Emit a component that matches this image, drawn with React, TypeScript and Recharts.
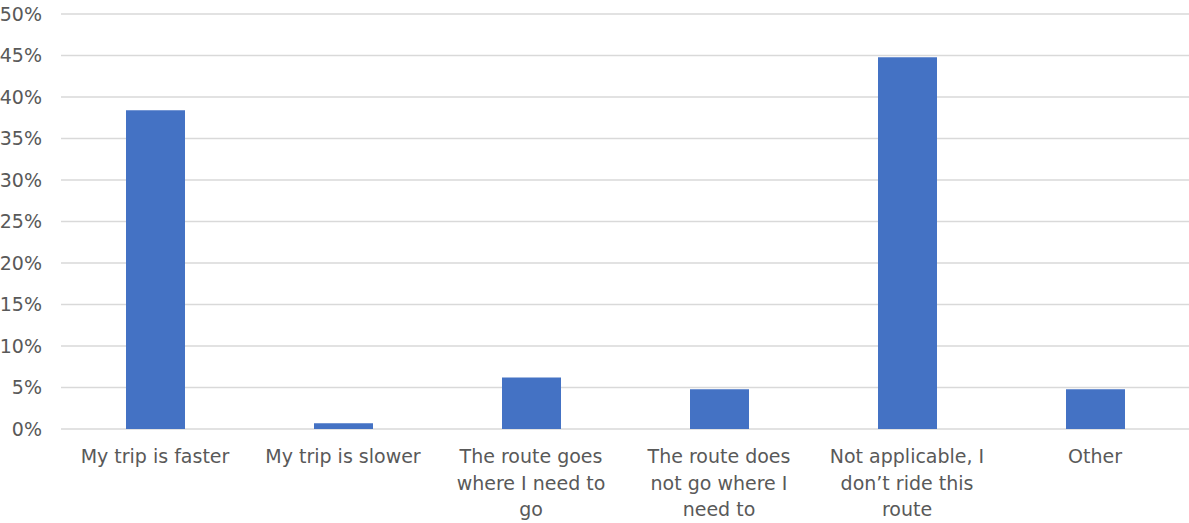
import { BarChart, Bar, XAxis, YAxis, CartesianGrid } from "recharts";

const categories = [
  "My trip is faster",
  "My trip is slower",
  "The route goes where I need to go",
  "The route does not go where I need to",
  "Not applicable, I don’t ride this route",
  "Other",
];

// wrapped lines for the category labels
const categoryLines = [
  ["My trip is faster"],
  ["My trip is slower"],
  ["The route goes", "where I need to", "go"],
  ["The route does", "not go where I", "need to"],
  ["Not applicable, I", "don’t ride this", "route"],
  ["Other"],
];

const shares = [0.384, 0.007, 0.062, 0.048, 0.448, 0.048];

const yTicks = [0, 0.05, 0.1, 0.15, 0.2, 0.25, 0.3, 0.35, 0.4, 0.45, 0.5];

const data = categories.map((name, i) => ({ name, share: shares[i] }));

const FONT = "'DejaVu Sans', sans-serif";
const TEXT = "#595959";

function CategoryTick({ x, y, payload }: any) {
  const idx = categories.indexOf(payload.value);
  const lines = categoryLines[idx] ?? [payload.value];
  return (
    <text x={x} y={y} textAnchor="middle" fill={TEXT} fontSize={19} fontFamily={FONT}>
      {lines.map((line, i) => (
        <tspan key={i} x={x} dy={i === 0 ? 34 : 26.5}>
          {line}
        </tspan>
      ))}
    </text>
  );
}

export default function App() {
  return (
    <div style={{ position: "absolute", left: 0, top: 0, background: "#fff" }}>
      <BarChart
        width={1189}
        height={523}
        data={data}
        margin={{ top: 14, right: 0, left: 0, bottom: 0 }}
      >
        <CartesianGrid vertical={false} stroke="#d9d9d9" strokeWidth={1.5} />
        <XAxis
          dataKey="name"
          axisLine={false}
          tickLine={false}
          interval={0}
          tickMargin={0}
          tickSize={0}
          height={94}
          tick={<CategoryTick />}
        />
        <YAxis
          domain={[0, 0.5]}
          ticks={yTicks}
          width={61}
          axisLine={false}
          tickLine={false}
          tickMargin={13}
          tickFormatter={(v: number) => `${Math.round(v * 100)}%`}
          tick={{ fill: TEXT, fontSize: 19, fontFamily: FONT }}
        />
        <Bar dataKey="share" fill="#4472C4" barSize={59} isAnimationActive={false} />
      </BarChart>
    </div>
  );
}
